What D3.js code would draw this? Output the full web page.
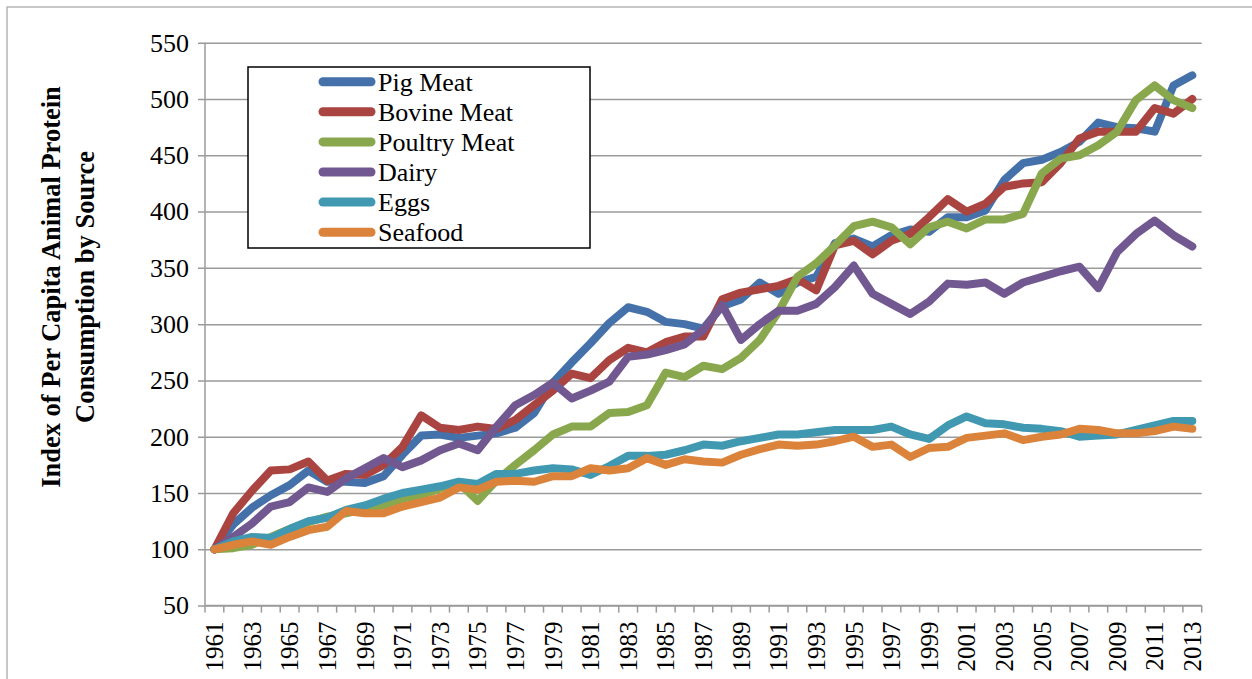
<!DOCTYPE html>
<html>
<head>
<meta charset="utf-8">
<script src="https://cdn.jsdelivr.net/npm/d3@7"></script>
<style>
  body { margin: 0; background: #fff; }
  svg { display: block; }
  svg text { font-family: "Liberation Serif", "Times New Roman", serif; }
</style>
</head>
<body>
<div id="vis1"></div>
<script>
// years on the category axis
let years = d3.range(1961, 2014);

let pigMeat = [100, 122, 137, 148, 157, 170, 160, 160, 159, 165, 184, 201, 202, 199, 201, 203, 208, 221, 248, 266,
  283, 301, 315, 311, 302, 300, 296, 316, 322, 337, 327, 337, 342, 372, 376, 369, 379, 384, 382, 395,
  395, 401, 428, 443, 446, 453, 462, 479, 475, 474, 471, 512, 521];
let bovineMeat = [100, 132, 152, 170, 171, 178, 161, 167, 166, 175, 191, 219, 208, 206, 209, 207, 215, 228, 241, 256,
  252, 268, 279, 275, 284, 289, 289, 322, 328, 331, 334, 340, 330, 370, 374, 362, 374, 380, 395, 411,
  400, 407, 422, 425, 426, 443, 465, 471, 471, 471, 492, 487, 500];
let poultryMeat = [100, 101, 104, 111, 118, 124, 129, 132, 136, 139, 145, 148, 154, 159, 143, 161, 175, 188, 202, 209,
  209, 221, 222, 228, 257, 253, 263, 260, 270, 286, 311, 342, 354, 370, 387, 391, 386, 371, 386, 391,
  385, 393, 393, 398, 434, 447, 450, 459, 471, 499, 512, 499, 492];
let dairy = [100, 111, 123, 138, 142, 155, 151, 163, 172, 181, 173, 179, 188, 194, 188, 209, 228, 237, 248, 234,
  241, 249, 271, 273, 277, 282, 295, 317, 286, 300, 312, 312, 318, 333, 352, 327, 318, 309, 320, 336,
  335, 337, 327, 337, 342, 347, 351, 332, 364, 380, 392, 379, 369];
let eggs = [100, 107, 111, 110, 118, 125, 128, 135, 139, 145, 150, 153, 156, 160, 158, 167, 167, 170, 172, 171,
  166, 174, 183, 183, 184, 188, 193, 192, 196, 199, 202, 202, 204, 206, 206, 206, 209, 202, 198, 210,
  218, 212, 211, 208, 207, 205, 200, 201, 202, 206, 210, 214, 214];
let seafood = [100, 104, 107, 104, 111, 117, 120, 134, 132, 132, 138, 142, 146, 155, 153, 160, 161, 160, 165, 165,
  172, 170, 172, 181, 175, 180, 178, 177, 184, 189, 193, 192, 193, 196, 200, 191, 193, 182, 190, 191,
  199, 201, 203, 197, 200, 202, 207, 206, 203, 203, 205, 209, 207];

let seriesNames = ['Pig Meat', 'Bovine Meat', 'Poultry Meat', 'Dairy', 'Eggs', 'Seafood'];
let seriesColors = ['#4471AA', '#AA4441', '#89A74C', '#715891', '#4099B1', '#DC833B'];
let yTicks = [50, 100, 150, 200, 250, 300, 350, 400, 450, 500, 550];

let series = [pigMeat, bovineMeat, poultryMeat, dairy, eggs, seafood].map((vals, i) => ({
  name: seriesNames[i],
  color: seriesColors[i],
  values: vals.map((v, j) => ({ year: years[j], value: v }))
}));

let W = 1252, H = 679;
let plot = { left: 205, right: 1201.7, top: 42.7, bottom: 605.6 };
let serif = '"Liberation Serif", "Times New Roman", serif';

let svg = d3.select('#vis1')
  .append('svg')
  .attr('width', W)
  .attr('height', H)
  .attr('font-family', serif);

// outer chart border (only top and left fall inside the picture)
svg.append('rect')
  .attr('x', 7).attr('y', 7)
  .attr('width', W + 20).attr('height', H + 20)
  .attr('fill', 'none')
  .attr('stroke', '#b5b5b5')
  .attr('stroke-width', 1.5);

let x = d3.scaleBand()
  .domain(years)
  .range([plot.left, plot.right])
  .padding(0);

let y = d3.scaleLinear()
  .domain([50, 550])
  .range([plot.bottom, plot.top]);

// horizontal gridlines + y axis
let yAxis = svg.append('g')
  .attr('transform', 'translate(' + plot.left + ',0)')
  .call(d3.axisLeft(y).tickValues(yTicks).tickSize(-(plot.right - plot.left)).tickSizeOuter(0).tickPadding(16));
yAxis.attr('font-family', serif);
yAxis.select('.domain').remove();
yAxis.selectAll('.tick line')
  .attr('x1', -7)
  .attr('stroke', '#9b9b9b')
  .attr('stroke-width', 1.5);
yAxis.selectAll('.tick text')
  .attr('font-size', 26)
  .attr('fill', '#000');

svg.append('line')
  .attr('x1', plot.left).attr('x2', plot.left)
  .attr('y1', plot.top).attr('y2', plot.bottom)
  .attr('stroke', '#9b9b9b')
  .attr('stroke-width', 1.5);

// category axis, ticks on band edges and a label every other year
let xAxis = svg.append('g')
  .attr('transform', 'translate(0,' + plot.bottom + ')');
xAxis.append('line')
  .attr('x1', plot.left).attr('x2', plot.right)
  .attr('stroke', '#9b9b9b')
  .attr('stroke-width', 1.5);
xAxis.selectAll('line.tk')
  .data(years.concat([null]))
  .enter().append('line')
  .attr('class', 'tk')
  .attr('x1', (d, i) => plot.left + i * x.bandwidth())
  .attr('x2', (d, i) => plot.left + i * x.bandwidth())
  .attr('y1', 0).attr('y2', 7)
  .attr('stroke', '#9b9b9b')
  .attr('stroke-width', 1.5);
xAxis.selectAll('text')
  .data(years.filter((d, i) => i % 2 === 0))
  .enter().append('text')
  .attr('transform', d => 'translate(' + (x(d) + x.bandwidth() / 2) + ',16) rotate(-90)')
  .attr('dy', '0.35em')
  .attr('text-anchor', 'end')
  .attr('font-size', 25)
  .text(d => d);

// lines
let line = d3.line()
  .x(d => x(d.year) + x.bandwidth() / 2)
  .y(d => y(d.value));

svg.append('g')
  .selectAll('path')
  .data(series)
  .enter().append('path')
  .attr('d', d => line(d.values))
  .attr('fill', 'none')
  .attr('stroke', d => d.color)
  .attr('stroke-width', 8)
  .attr('stroke-linejoin', 'round')
  .attr('stroke-linecap', 'round');

// legend
let legend = svg.append('g');
legend.append('rect')
  .attr('x', 248).attr('y', 67)
  .attr('width', 342).attr('height', 181)
  .attr('fill', '#fff')
  .attr('stroke', '#000')
  .attr('stroke-width', 1.5);
let rows = legend.selectAll('g.row')
  .data(series)
  .enter().append('g')
  .attr('class', 'row')
  .attr('transform', (d, i) => 'translate(0,' + (81.7 + i * 30.1) + ')');
rows.append('line')
  .attr('x1', 323).attr('x2', 371)
  .attr('stroke', d => d.color)
  .attr('stroke-width', 9)
  .attr('stroke-linecap', 'round');
rows.append('text')
  .attr('x', 378)
  .attr('dy', '0.35em')
  .attr('font-size', 26)
  .text(d => d.name);

// y axis title, two lines
let title = svg.append('text')
  .attr('transform', 'translate(0,287) rotate(-90)')
  .attr('text-anchor', 'middle')
  .attr('font-size', 26.5)
  .attr('font-weight', 'bold');
title.append('tspan').attr('x', 0).attr('y', 60).text('Index of Per Capita Animal Protein');
title.append('tspan').attr('x', 0).attr('y', 94).text('Consumption by Source');
</script>
</body>
</html>
